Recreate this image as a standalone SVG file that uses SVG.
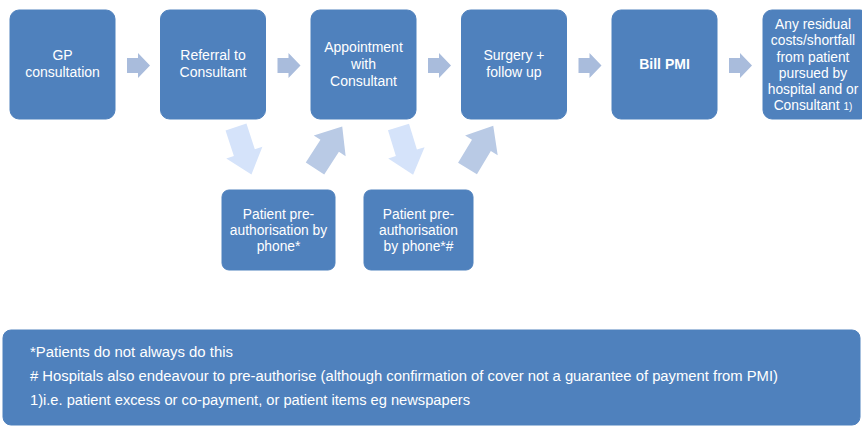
<svg xmlns="http://www.w3.org/2000/svg" width="862" height="426" viewBox="0 0 862 426">
<defs>
<style>
.box{fill:#4f81bd;stroke:#4f81bd;}
.t{font-family:"Liberation Sans",Arial,sans-serif;font-size:14px;fill:#ffffff;text-anchor:middle;}
.b{font-weight:bold;}
.s{font-size:13.8px;}
.f{font-family:"Liberation Sans",Arial,sans-serif;font-size:14px;fill:#ffffff;}
.ar{fill:#a9bcdc;}
.dn{fill:#d5e3fa;}
.up{fill:#b9cae5;}
</style>
<polygon id="arr" points="0,-7.5 11,-7.5 11,-12.5 23,0 11,12.5 11,7.5 0,7.5"/>
<polygon id="darr" points="0,-11 27,-11 27,-19 50,0 27,19 27,11 0,11"/>
</defs>
<rect width="862" height="426" fill="#ffffff"/>
<g id="connectors">
<use href="#arr" class="ar" x="127" y="65.5"/>
<use href="#arr" class="ar" x="277.5" y="65.5"/>
<use href="#arr" class="ar" x="428" y="65.5"/>
<use href="#arr" class="ar" x="578.5" y="65.5"/>
<use href="#arr" class="ar" x="729" y="65.5"/>
<use href="#darr" class="dn" transform="translate(236,127) rotate(72)"/>
<use href="#darr" class="up" transform="translate(315,168.5) rotate(-57)"/>
<use href="#darr" class="dn" transform="translate(398.5,127) rotate(73)"/>
<use href="#darr" class="up" transform="translate(467.5,168.5) rotate(-59)"/>
</g>
<g id="gp">
<rect class="box" x="10" y="10" width="105" height="109" rx="9"/>
<text class="t" x="62.5" y="60">GP</text>
<text class="t" x="62.5" y="77">consultation</text>
</g>
<g id="referral">
<rect class="box" x="160.5" y="10" width="105" height="109" rx="9"/>
<text class="t" x="213" y="60">Referral to</text>
<text class="t" x="213" y="77">Consultant</text>
</g>
<g id="appointment">
<rect class="box" x="311" y="10" width="105" height="109" rx="9"/>
<text class="t" x="363.5" y="52">Appointment</text>
<text class="t" x="363.5" y="69">with</text>
<text class="t" x="363.5" y="86">Consultant</text>
</g>
<g id="surgery">
<rect class="box" x="461.5" y="10" width="105" height="109" rx="9"/>
<text class="t" x="514" y="60">Surgery +</text>
<text class="t" x="514" y="77">follow up</text>
</g>
<g id="bill">
<rect class="box" x="612" y="10" width="105" height="109" rx="9"/>
<text class="t b" x="664.5" y="69">Bill PMI</text>
</g>
<g id="residual">
<rect class="box" x="763" y="10" width="106" height="109" rx="9"/>
<text class="t s" x="813" y="29">Any residual</text>
<text class="t s" x="813" y="45">costs/shortfall</text>
<text class="t s" x="813" y="62">from patient</text>
<text class="t s" x="813" y="78">pursued by</text>
<text class="t s" x="813" y="94">hospital and or</text>
<text class="t s" x="813" y="110">Consultant <tspan font-size="10">1)</tspan></text>
</g>
<g id="preauth1">
<rect class="box" x="222" y="190" width="113" height="80" rx="7"/>
<text class="t s" x="278.5" y="219">Patient pre-</text>
<text class="t s" x="278.5" y="235">authorisation by</text>
<text class="t s" x="278.5" y="251">phone*</text>
</g>
<g id="preauth2">
<rect class="box" x="364" y="190" width="109" height="80" rx="7"/>
<text class="t s" x="418.5" y="219">Patient pre-</text>
<text class="t s" x="418.5" y="235">authorisation</text>
<text class="t s" x="418.5" y="251">by phone*#</text>
</g>
<g id="footnotes">
<rect class="box" x="3" y="330" width="857" height="95" rx="8"/>
<text class="f" x="30" y="357" textLength="203" lengthAdjust="spacingAndGlyphs">*Patients do not always do this</text>
<text class="f" x="30" y="381" textLength="748" lengthAdjust="spacingAndGlyphs"># Hospitals also endeavour to pre-authorise (although confirmation of cover not a guarantee of payment from PMI)</text>
<text class="f" x="30" y="405" textLength="440" lengthAdjust="spacingAndGlyphs">1)i.e. patient excess or co-payment, or patient items eg newspapers</text>
</g>
</svg>
